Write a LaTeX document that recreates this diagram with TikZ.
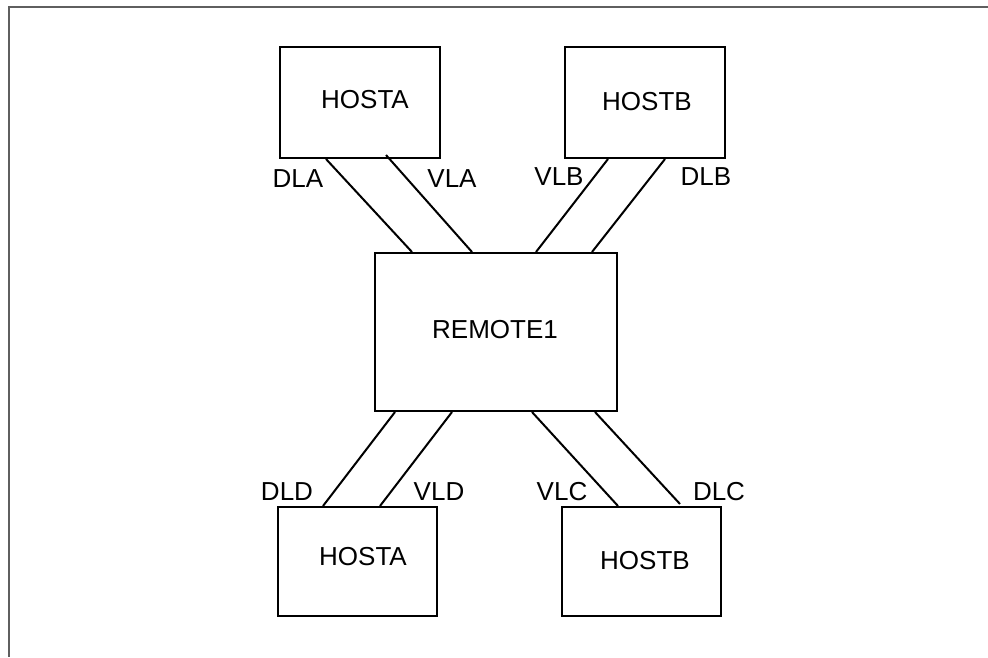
\documentclass[tikz,border=0pt]{standalone}
\usepackage{fontspec}
\setmainfont{Liberation Sans}
\usetikzlibrary{calc}
\definecolor{framegray}{RGB}{95,95,95}
\begin{document}
\begin{tikzpicture}[x=1pt,y=-1pt,
  box/.style={draw=black,line width=2pt,inner sep=0pt,font=\fontsize{26}{30}\selectfont},
  lbl/.style={inner sep=0pt,font=\fontsize{26}{30}\selectfont},
  link/.style={line width=2pt,draw=black}]
\useasboundingbox (0,0) rectangle (988,657);
\draw[framegray,line width=2pt] (988,7) -- (9,7) -- (9,657);
% boxes
\node[box,minimum width=160pt,minimum height=111pt] (ha) at (360,102.5) {};
\node[lbl] at (365,100) {HOSTA};
\node[box,minimum width=160pt,minimum height=111pt] (hb) at (645,102.5) {};
\node[lbl] at (647,102) {HOSTB};
\node[box,minimum width=242pt,minimum height=158pt] (r) at (496,332) {};
\node[lbl] at (495,330) {REMOTE1};
\node[box,minimum width=159pt,minimum height=109pt] (hd) at (357.5,561.5) {};
\node[lbl] at (363,557) {HOSTA};
\node[box,minimum width=159pt,minimum height=109pt] (hc) at (641.5,561.5) {};
\node[lbl] at (645,561) {HOSTB};
% links
\draw[link] ([xshift=47pt]ha.south west) -- ([xshift=38pt]r.north west);
\draw[link] ([xshift=107pt,yshift=4pt]ha.south west) -- ([xshift=98pt]r.north west);
\draw[link] ([xshift=44pt]hb.south west) -- ([xshift=162pt]r.north west);
\draw[link] ([xshift=101pt]hb.south west) -- ([xshift=218pt]r.north west);
\draw[link] ([xshift=21pt]r.south west) -- ([xshift=46pt]hd.north west);
\draw[link] ([xshift=78pt]r.south west) -- ([xshift=103pt]hd.north west);
\draw[link] ([xshift=158pt]r.south west) -- ([xshift=57pt]hc.north west);
\draw[link] ([xshift=221pt]r.south west) -- ([xshift=119pt,yshift=2pt]hc.north west);
% labels
\node[lbl] (dla) at (298,179) {DLA};
\node[lbl] (vla) at (452,179) {VLA};
\node[lbl] (vlb) at (559,177) {VLB};
\node[lbl] (dlb) at (706,177) {DLB};
\node[lbl] (dld) at (287,492) {DLD};
\node[lbl] (vld) at (439,492) {VLD};
\node[lbl] (vlc) at (562,492) {VLC};
\node[lbl] (dlc) at (719,492) {DLC};
\end{tikzpicture}
\end{document}
